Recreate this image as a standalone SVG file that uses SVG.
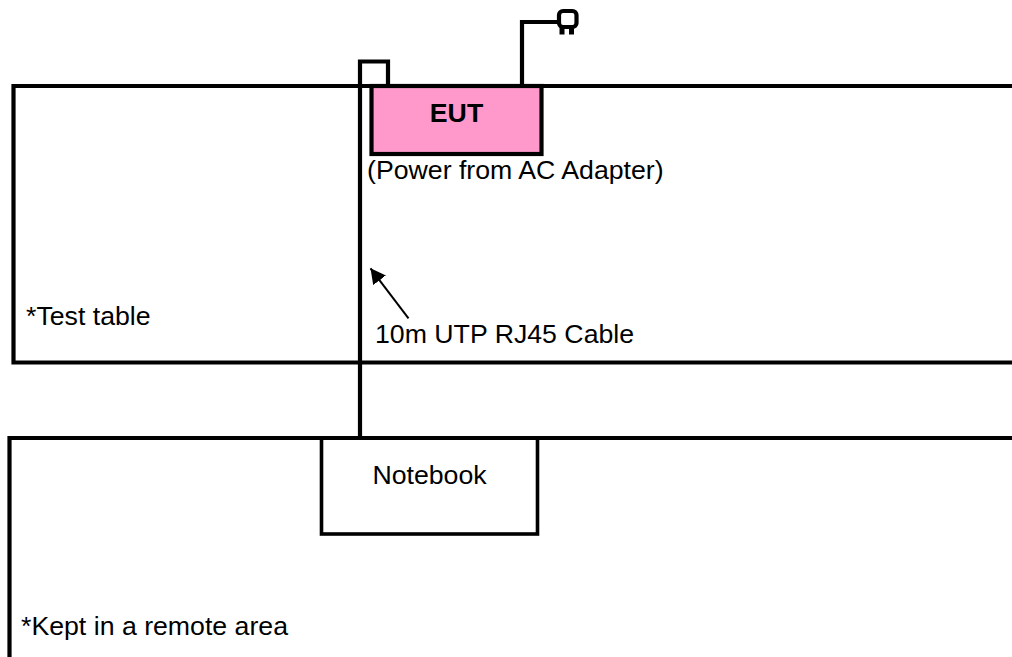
<svg xmlns="http://www.w3.org/2000/svg" width="1012" height="657" viewBox="0 0 1012 657">
<style>
.l{fill:none;stroke:#000;stroke-width:4.200;stroke-linecap:butt;stroke-linejoin:miter}
.n{stroke-width:3.600}
text{font-family:"Liberation Sans",Arial,sans-serif;font-size:26.700px;fill:#000}
</style>
<defs><marker id="a" markerUnits="userSpaceOnUse" markerWidth="20" markerHeight="20" refX="15" refY="8" orient="auto"><path d="M0 0L15 8L0 16Z" fill="#000"/></marker></defs>
<rect width="1012" height="657" fill="#fff"/>
<g id="test-table"><path class="l" d="M1012 86H13.500V362.500H1012"/><text x="26" y="324.500">*Test table</text></g>
<g id="remote-area"><path class="l" d="M1012 438H9.500V657"/><text x="21" y="635">*Kept in a remote area</text></g>
<g id="connectors">
<path class="l" d="M360 438V61.500H388V86"/>
<path class="l" d="M522 86V22H558"/>
<path d="M408.500 318.300L370.500 268.300" fill="none" stroke="#000" stroke-width="2" marker-end="url(#a)"/>
</g>
<g id="eut"><rect class="l" x="371.500" y="86" width="170" height="68" style="fill:#ff99cc"/><text x="456.500" y="122" text-anchor="middle" font-weight="700">EUT</text></g>
<g id="plug"><rect class="l" x="559" y="11" width="17.500" height="16" rx="4"/><path d="M559.500 27h5v7.500h-5zM569 27h5v7.500h-5z" fill="#000"/></g>
<text x="367" y="178.500">(Power from AC Adapter)</text>
<text x="375" y="342.500">10m UTP RJ45 Cable</text>
<g id="notebook"><rect class="l n" x="321.500" y="438" width="216" height="96"/><text x="429.500" y="483.500" text-anchor="middle">Notebook</text></g>
</svg>
